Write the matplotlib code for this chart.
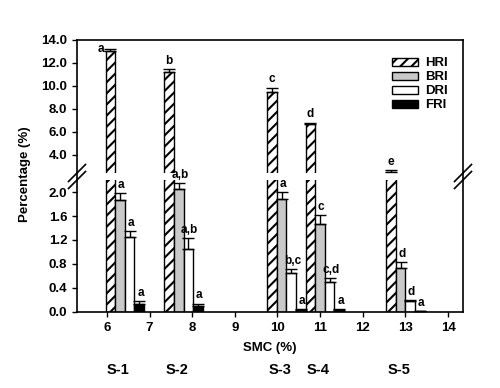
import matplotlib.pyplot as plt
import matplotlib.transforms as mtransforms
import numpy as np
from matplotlib.lines import Line2D

plt.rcParams['font.family'] = ['Liberation Sans', 'DejaVu Sans']
plt.rcParams['font.weight'] = 'bold'
plt.rcParams['hatch.linewidth'] = 1.5

# data
smc_pos = [6.42, 7.80, 10.21, 11.11, 13.00]
sample_names = ["S-1", "S-2", "S-3", "S-4", "S-5"]
hri = [13.0, 11.2, 9.5, 6.65, 2.5]
hri_err = [0.25, 0.3, 0.35, 0.15, 0.2]
bri = [1.86, 2.05, 1.88, 1.47, 0.73]
bri_err = [0.12, 0.10, 0.12, 0.15, 0.10]
dri = [1.25, 1.05, 0.65, 0.50, 0.18]
dri_err = [0.10, 0.18, 0.07, 0.06, 0.02]
fri = [0.13, 0.10, 0.04, 0.04, 0.01]
fri_err = [0.05, 0.04, 0.01, 0.01, 0.005]
hri_letters = ["a", "b", "c", "d", "e"]
bri_letters = ["a", "a,b", "a", "c", "d"]
dri_letters = ["a", "a,b", "b,c", "c,d", "d"]
fri_letters = ["a", "a", "a", "a", "a"]

fig = plt.figure(figsize=(5, 3.88), dpi=100)
ax1 = fig.add_axes([0.154, 0.554, 0.772, 0.343])
ax2 = fig.add_axes([0.154, 0.196, 0.772, 0.340])

w = 0.225
x = np.array(smc_pos)
series = [
    (hri, hri_err, hri_letters, dict(facecolor="white", hatch="///"), "HRI"),
    (bri, bri_err, bri_letters, dict(facecolor="#c9c9c9"), "BRI"),
    (dri, dri_err, dri_letters, dict(facecolor="white"), "DRI"),
    (fri, fri_err, fri_letters, dict(facecolor="black"), "FRI"),
]
ekw = dict(ecolor="black", elinewidth=1, capsize=4.5, capthick=1)
handles = []
for i, (vals, err, lets, style, name) in enumerate(series):
    xi = x + (i - 1.5) * w
    yerr = [np.zeros(len(vals)), err]
    b = ax2.bar(xi, vals, w, yerr=yerr, edgecolor="black", linewidth=1,
                error_kw=ekw, label=name, **style)
    handles.append(b)
    if i == 0:
        ax1.bar(xi, vals, w, yerr=yerr, edgecolor="black", linewidth=1,
                error_kw=ekw, **style)
        for j in range(len(vals)):
            if j == 0:
                ax1.annotate(lets[j], (xi[j] - w / 2, vals[j] + err[j]),
                             xytext=(-1, 0), textcoords="offset points",
                             ha="right", va="center", fontsize=8.5)
            else:
                ax1.annotate(lets[j], (xi[j], vals[j] + err[j]),
                             xytext=(0, 1.5), textcoords="offset points",
                             ha="center", va="bottom", fontsize=8.5)
    else:
        for j in range(len(vals)):
            ax2.annotate(lets[j], (xi[j] + 0.03, vals[j] + err[j]),
                         xytext=(0, 1.5), textcoords="offset points",
                         ha="center", va="bottom", fontsize=8.5)

for ax in (ax1, ax2):
    ax.set_xlim(5.3, 14.35)
    for s in ax.spines.values():
        s.set_linewidth(1.2)
    ax.tick_params(direction="out", length=3.5, width=1, labelsize=9.5)

ax1.set_ylim(2.4, 14)
ax1.set_yticks([4, 6, 8, 10, 12, 14])
ax1.set_yticklabels(["%.1f" % v for v in [4, 6, 8, 10, 12, 14]])
ax1.spines["bottom"].set_visible(False)
ax1.set_xticks([])

ax2.set_ylim(0, 2.2)
yt = [0, 0.4, 0.8, 1.2, 1.6, 2.0]
ax2.set_yticks(yt)
ax2.set_yticklabels(["%.1f" % v for v in yt])
ax2.spines["top"].set_visible(False)
ax2.set_xticks(range(6, 15))

W, H = 500, 388
# x label and sample names below axis
fig.text(0.54, 1 - 348 / H, "SMC (%)", ha="center", va="center",
         fontsize=9.5, fontweight="bold")
trans = mtransforms.blended_transform_factory(ax2.transData, fig.transFigure)
for xs, name in zip(smc_pos, sample_names):
    fig.text(xs - 0.15, 1 - 370 / H, name, transform=trans,
             ha="center", va="center", fontsize=10.5, fontweight="bold")

fig.text(0.05, 0.55, "Percentage (%)", rotation=90, ha="center",
         va="center", fontsize=9.5, fontweight="bold")

# spines across the gap and break marks
for xp in (77, 463):
    fig.add_artist(Line2D([xp / W, xp / W], [0.536, 0.554],
                          color="black", lw=1.2, transform=fig.transFigure))
    for dy in (-3.5, 3.5):
        cy = 176.5 + dy
        fig.add_artist(Line2D([(xp - 8.5) / W, (xp + 8.5) / W],
                              [1 - (cy + 8.5) / H, 1 - (cy - 8.5) / H],
                              color="black", lw=1.2,
                              transform=fig.transFigure))

fig.legend(handles=handles, loc="upper left", bbox_to_anchor=(0.784, 0.852),
           frameon=False, fontsize=9.5, handlelength=2.0, handleheight=0.6,
           handletextpad=0.5, labelspacing=0.15, borderpad=0,
           borderaxespad=0)

fig.savefig("out.png", dpi=100)
